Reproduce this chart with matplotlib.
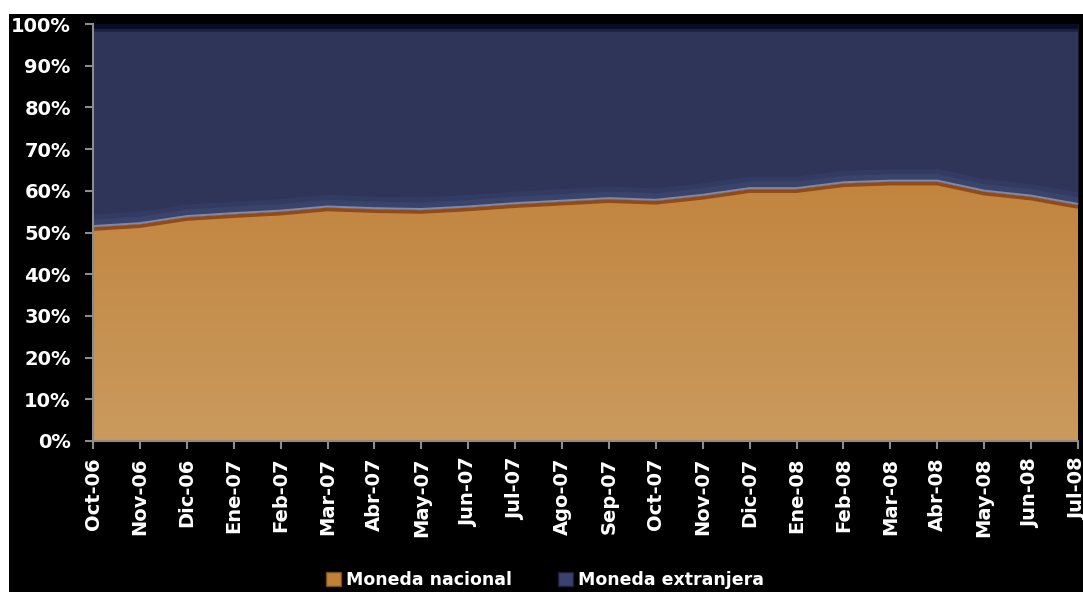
import numpy as np
import matplotlib
matplotlib.use("Agg")
import matplotlib.pyplot as plt
from matplotlib.patches import Rectangle, Patch
from matplotlib.path import Path
from matplotlib.patches import PathPatch
import matplotlib.transforms as mtransforms

months = ["Oct-06", "Nov-06", "Dic-06", "Ene-07", "Feb-07", "Mar-07", "Abr-07",
          "May-07", "Jun-07", "Jul-07", "Ago-07", "Sep-07", "Oct-07", "Nov-07",
          "Dic-07", "Ene-08", "Feb-08", "Mar-08", "Abr-08", "May-08", "Jun-08",
          "Jul-08"]
moneda_nacional = [51.3, 52.0, 53.7, 54.4, 55.0, 56.0, 55.6, 55.4, 56.0, 56.8,
                   57.4, 58.0, 57.6, 58.8, 60.4, 60.4, 61.8, 62.2, 62.2, 59.8,
                   58.6, 56.6]
moneda_extranjera = [100 - v for v in moneda_nacional]
series_names = ["Moneda nacional", "Moneda extranjera"]
ytick_values = list(range(0, 101, 10))

W, H = 1083, 592
fig = plt.figure(figsize=(W / 100, H / 100), dpi=100, facecolor="white")
# black panel behind the chart
fig.patches.append(Rectangle((9 / W, 0), 1 - 9 / W, 1 - 14 / H,
                             transform=fig.transFigure, facecolor="black",
                             edgecolor="none", zorder=-10))

ax = fig.add_axes([93 / W, 1 - 441 / H, (1078 - 93) / W, (441 - 24) / H])
ax.set_facecolor("black")

x = np.arange(len(months))
nac = np.array(moneda_nacional)
ext = np.array(moneda_extranjera)
top = nac + ext

navy = "#2E3559"
# foreign-currency band
ax.fill_between(x, nac, top, color=navy, lw=0, zorder=1)

# domestic-currency band with a vertical gradient
verts = list(zip(x, nac)) + [(x[-1], 0), (x[0], 0)]
poly = Path(verts + [verts[0]], closed=True)
patch = PathPatch(poly, facecolor="none", edgecolor="none")
ax.add_patch(patch)
c_top = np.array([0xBC, 0x78, 0x2C]) / 255
c_bot = np.array([0xCA, 0x9A, 0x5E]) / 255
t = np.linspace(0, 1, 256)[:, None]
grad = (c_bot * (1 - t) + c_top * t)[:, None, :]
im = ax.imshow(grad, extent=[x[0], x[-1], 0, 100], origin="lower",
               aspect="auto", zorder=2, interpolation="bilinear")
im.set_clip_path(patch)

# soft glow above the boundary
for dy, lw, col in [(7, 8, "#333B62"), (4, 5, "#3A4369")]:
    glow = mtransforms.offset_copy(ax.transData, fig=fig, x=0, y=dy, units="dots")
    ax.plot(x, nac, color=col, lw=lw, transform=glow, zorder=1.5,
            solid_capstyle="butt")
# bevel along the boundary: dark shadow below, light edge above
shadow = mtransforms.offset_copy(ax.transData, fig=fig, x=0, y=-2.0, units="dots")
light = mtransforms.offset_copy(ax.transData, fig=fig, x=0, y=1.0, units="dots")
ax.plot(x, nac, color="#8E4410", lw=2.6, transform=shadow, zorder=3,
        solid_capstyle="butt", alpha=0.9)
ax.plot(x, nac, color="#7F89B0", lw=1.4, transform=light, zorder=4,
        solid_capstyle="butt")

# dark bevel at the top edge
for dy, lw, col in [(-5, 4, "#1A2040"), (-2, 4, "#070B24")]:
    top_off = mtransforms.offset_copy(ax.transData, fig=fig, x=0, y=dy, units="dots")
    ax.plot(x, top, color=col, lw=lw, transform=top_off, zorder=3,
            solid_capstyle="butt")

ax.set_xlim(x[0], x[-1])
ax.set_ylim(0, 100)
ax.set_xticks(x)
ax.set_xticklabels(months, rotation=90, color="white", fontsize=14,
                   fontweight="bold")
ax.set_yticks(ytick_values)
ax.set_yticklabels([f"{v}%" for v in ytick_values], color="white",
                   fontsize=14, fontweight="bold")
ax.tick_params(axis="both", colors="#8C8C8C", length=6, width=1.5,
               direction="out")
ax.tick_params(axis="x", pad=6)
ax.tick_params(axis="y", pad=10)
for lab in ax.get_xticklabels() + ax.get_yticklabels():
    lab.set_color("white")
for side in ["top", "right"]:
    ax.spines[side].set_visible(False)
for side in ["left", "bottom"]:
    ax.spines[side].set_color("#8C8C8C")
    ax.spines[side].set_linewidth(1.5)
    ax.spines[side].set_zorder(5)

handles = [Patch(facecolor="#C0823A", edgecolor="#7A4A18", label=series_names[0]),
           Patch(facecolor="#3A4270", edgecolor="#1A1F3A", label=series_names[1])]
leg = fig.legend(handles=handles, loc="center", bbox_to_anchor=(545 / W, 1 - 580 / H),
                 ncol=2, frameon=False, handlelength=0.9,
                 handleheight=0.9, handletextpad=0.3, columnspacing=2.6,
                 borderpad=0.1, prop={"weight": "bold", "size": 12.5})
for txt in leg.get_texts():
    txt.set_color("white")

fig.savefig("out.png", dpi=100, facecolor=fig.get_facecolor())
